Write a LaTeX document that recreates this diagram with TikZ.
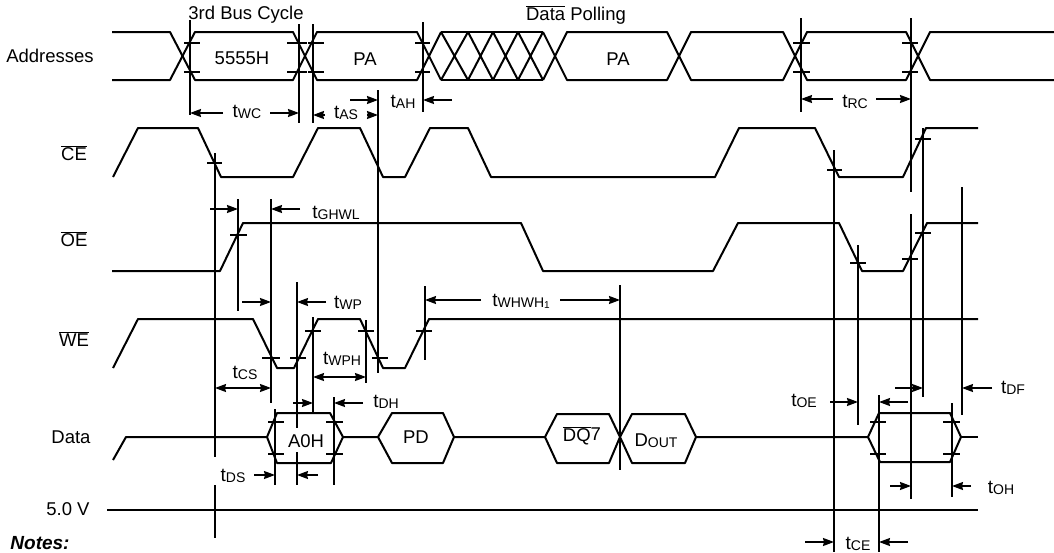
\documentclass[tikz,border=0pt]{standalone}
\usepackage{fontspec}
\setmainfont{Liberation Sans}
\usetikzlibrary{arrows.meta}
\newcommand{\smalltxt}[1]{{\fontsize{14}{14}\selectfont\raisebox{-0.8pt}{#1}}}
\newcommand{\tim}[1]{{\fontsize{19}{19}\selectfont t}\smalltxt{#1}}
\newcommand{\ovl}[1]{$\overline{\hbox{#1}}$}
\tikzset{
  x=1pt,y=-1pt,
  wave/.style={line width=2pt,line join=round,black},
  guide/.style={line width=1.6pt,black},
  tickmark/.style={line width=1.6pt,black},
  dim/.style={line width=1.4pt,black,-{Stealth[length=11pt,width=8pt,inset=1pt]}},
  dimboth/.style={line width=1.4pt,black,{Stealth[length=11pt,width=8pt,inset=1pt]}-{Stealth[length=11pt,width=8pt,inset=1pt]}},
  lab/.style={inner sep=0pt,font=\fontsize{18.5}{19}\selectfont,text=black},
}
\begin{document}
\begin{tikzpicture}
\fill[white] (0,0) rectangle (1054,552);
\useasboundingbox (0,0) rectangle (1054,552);
% Addresses waveform
\draw[wave] (112,32) -- (170,32) -- (195,80) -- (293,80) -- (317,32) -- (417,32) -- (441,80);
\draw[wave] (112,80) -- (170,80) -- (195,32) -- (293,32) -- (317,80) -- (417,80) -- (441,32);
\draw[wave] (441,32) -- (543,32) (441,80) -- (543,80);
\foreach \a/\b in {441/468,468/493,493/518,518/543} {
  \draw[wave] (\a,32) -- (\b,80) (\a,80) -- (\b,32);
}
\draw[wave] (543,32) -- (567,80) -- (667,80) -- (691,32) -- (783,32) -- (807,80) -- (906,80) -- (930,32) -- (1054,32);
\draw[wave] (543,80) -- (567,32) -- (667,32) -- (691,80) -- (783,80) -- (807,32) -- (906,32) -- (930,80) -- (1054,80);
% CE
\draw[wave] (113,177) -- (138,128) -- (198,128) -- (221,177) -- (293,177) -- (318,128) -- (360,128) -- (383,177) -- (405,177) -- (430,128) -- (468,128) -- (491,177) -- (715,177) -- (739,128) -- (815,128) -- (839,177) -- (903,177) -- (926,128) -- (978,128);
% OE
\draw[wave] (112,271) -- (220,271) -- (243,223) -- (521,223) -- (543,271) -- (713,271) -- (738,223) -- (839,223) -- (862,271) -- (903,271) -- (927,223) -- (978,223);
% WE
\draw[wave] (113,368) -- (138,319) -- (253,319) -- (277,368) -- (294,368) -- (318,319) -- (360,319) -- (383,368) -- (405,368) -- (429,319) -- (978,319);
% Data
\draw[wave] (113,460) -- (126,437) -- (267,437) -- (277,413) -- (330,413) -- (343,437) -- (331,463) -- (277,463) -- (267,437);
\draw[wave] (343,437) -- (378,437) -- (392,413) -- (443,413) -- (454,437) -- (443,463) -- (392,463) -- (378,437);
\draw[wave] (454,437) -- (545,437) -- (557,414) -- (609,414) -- (620,437) -- (609,463) -- (557,463) -- (545,437);
\draw[wave] (620,437) -- (632,414) -- (685,414) -- (696,437) -- (685,463) -- (632,463) -- (620,437);
\draw[wave] (696,437) -- (868,437) -- (879,413) -- (950,413) -- (961,437) -- (950,462) -- (880,462) -- (868,437);
\draw[wave] (961,437) -- (978,437);
% 5.0 V
\draw[wave] (107,510) -- (978,510);
% vertical guides
\foreach \x/\a/\b in {190/20/115,299/24/123,313/24/123,378/90/373,423/22/112,801/18/112,911/18/192,911/214/499,
  215/153/457,215/485/538,238/199/311,271/199/403,297/282/428,297/452/485,313/317/413,366/320/383,
  275/409/485,334/397/485,425/286/360,620/285/470,834/150/552,923/128/397,962/187/415,858/245/425,
  879/395/552,952/403/497} {
  \draw[guide] (\x,\a) -- (\x,\b);
}
% tick marks
\foreach \a/\b/\y in {184/200/43,184/200/72,287/307/43,287/307/72,308/324/43,308/324/72,415/430/43,415/430/72,
  793/810/43,793/810/72,902/918/43,902/918/72,
  207/222/163,827/842/170,915/931/139,
  230/247/235,850/866/263,902/918/259,915/931/233,
  262/280/358,290/306/358,305/321/331,358/374/331,372/388/358,416/432/331,
  268/284/422,268/284/454,326/343/422,326/343/454,870/886/422,870/886/454,943/960/422,943/960/454} {
  \draw[tickmark] (\a,\y) -- (\b,\y);
}
% dimension arrows
\foreach \a/\b/\y in {223/190/113,270/299/113,325/313/115,367/378/115,350/378/100,452/423/100,
  210/238/209,300/271/209,242/271/302,326/297/302,293/313/403,363/334/403,254/275/475,318/297/475,
  481/425/300,560/620/300,833/801/99,876/911/99,
  830/858/402,908/879/402,895/923/388,992/962/388,890/911/486,971/952/486,805/834/542,908/879/542} {
  \draw[dim] (\a,\y) -- (\b,\y);
}
\draw[dimboth] (215,388) -- (271,388);
\draw[dimboth] (313,377) -- (366,377);
% labels
\node[lab] (lbus) at (246,15) {3rd Bus Cycle};
\node[lab] (lpoll) at (576,15) {\ovl{Data} Polling};
\node[lab] (laddr) at (50,56) {Addresses};
\node[lab] (lce) at (74,153) {\ovl{CE}};
\node[lab] (loe) at (74,239) {\ovl{OE}};
\node[lab] (lwe) at (74,339) {\ovl{WE}};
\node[lab] (ldata) at (71,437) {Data};
\node[lab] (lv) at (68,509) {5.0 V};
\node[lab,font=\fontsize{19}{19}\selectfont\bfseries\itshape] (lnotes) at (40,543) {Notes:};
\node[lab] (l5555) at (242,58) {5555H};
\node[lab] (lpa1) at (365,59) {PA};
\node[lab] (lpa2) at (618,59) {PA};
\node[lab] (la0h) at (306,441) {A0H};
\node[lab] (lpd) at (416,437) {PD};
\node[lab] (ldq7) at (582,436) {\ovl{DQ}\raisebox{1pt}{7}};
\node[lab] (ldout) at (656,441) {D\smalltxt{OUT}};
\node[lab] (twc) at (247,112) {\tim{WC}};
\node[lab] (tas) at (346,113) {\tim{AS}};
\node[lab] (tah) at (403,102) {\tim{AH}};
\node[lab] (trc) at (855,102) {\tim{RC}};
\node[lab] (tghwl) at (336,213) {\tim{GHWL}};
\node[lab] (twp) at (348,303) {\tim{WP}};
\node[lab] (twph) at (342,359) {\tim{WPH}};
\node[lab] (tcs) at (245,373) {\tim{CS}};
\node[lab] (tdh) at (386,402) {\tim{DH}};
\node[lab] (tds) at (233,476) {\tim{DS}};
\node[lab] (twhwh) at (521,301) {\tim{WHWH\raisebox{-1pt}{\fontsize{10}{10}\selectfont 1}}};
\node[lab] (toe) at (804,401) {\tim{OE}};
\node[lab] (tdf) at (1013,388) {\tim{DF}};
\node[lab] (toh) at (1001,488) {\tim{OH}};
\node[lab] (tce) at (858,544) {\tim{CE}};
\end{tikzpicture}
\end{document}
